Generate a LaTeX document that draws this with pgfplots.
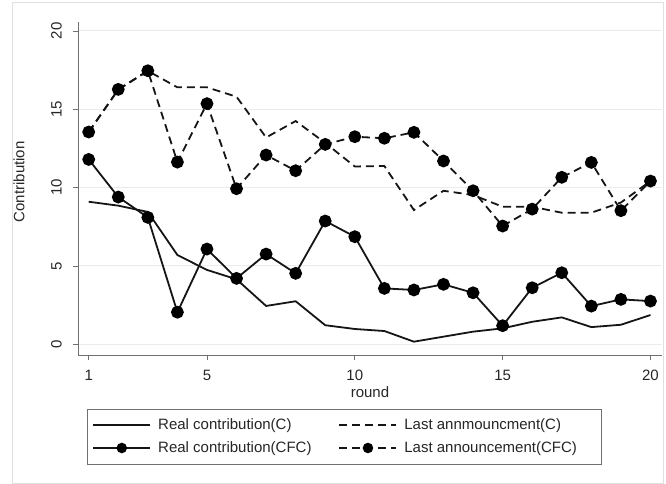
\documentclass[border=0pt]{standalone}
\usepackage{fontspec}
\setmainfont{Liberation Sans}
\usepackage{pgfplots}
\usepackage{pgfplotstable}
\pgfplotsset{compat=1.18}
\definecolor{axgray}{HTML}{707070}
\definecolor{gridgray}{HTML}{EBEBEB}
\definecolor{lineblk}{HTML}{151515}

\pgfplotstableread{
r realC lastC realCFC lastCFC
1  9.10 13.55 11.8 13.55
2  8.85 16.25  9.4 16.27
3  8.45 17.45  8.1 17.46
4  5.70 16.40  2.05 11.63
5  4.75 16.40  6.08 15.36
6  4.15 15.80  4.21 9.93
7  2.45 13.20  5.76 12.08
8  2.75 14.25  4.53 11.08
9  1.22 12.85  7.87 12.76
10 0.98 11.35  6.87 13.25
11 0.85 11.38  3.57 13.15
12 0.17  8.57  3.47 13.53
13 0.49  9.80  3.83 11.70
14 0.81  9.53  3.29  9.80
15 1.02  8.78  1.19  7.55
16 1.44  8.78  3.61  8.63
17 1.72  8.40  4.57 10.66
18 1.10  8.40  2.44 11.61
19 1.25  9.05  2.87  8.53
20 1.87 10.42  2.76 10.42
}\datatable

\begin{document}
\fontsize{15bp}{18bp}\selectfont
\begin{tikzpicture}
\path[use as bounding box] (0,0) rectangle (666bp,484bp);
\draw[black!12, line width=0.8bp] (12bp,0.5bp) rectangle (663bp,481.5bp);
\begin{axis}[
  at={(78bp,129bp)}, anchor=south west,
  scale only axis, width=584bp, height=333bp,
  xmin=0.638, xmax=20.39, ymin=-0.68, ymax=20.57,
  axis x line=bottom, axis y line=left,
  axis line style={-, axgray, line width=1bp},
  xtick={1,5,10,15,20}, ytick={0,5,10,15,20},
  tick align=outside, major tick length=5bp,
  tick style={axgray, line width=0.8bp},
  ymajorgrids, grid style={gridgray, line width=1bp},
  yticklabel style={rotate=90, anchor=south},
  xticklabel shift=5bp, yticklabel shift=6bp,
  ticklabel style={font=\fontsize{15bp}{18bp}\selectfont, text=black!85},
  label style={font=\fontsize{15bp}{18bp}\selectfont, text=black!85},
  xlabel={round}, ylabel={Contribution},
  xlabel style={at={(axis description cs:0.5,-0.094)}, anchor=north, inner sep=0pt},
  ylabel style={at={(axis description cs:-0.101,0.52)}, anchor=center, inner sep=0pt},
  /pgf/number format/assume math mode=true,
  legend columns=2,
  legend cell align=left,
  legend style={at={(0.0154,-0.162)}, anchor=north west,
    draw=axgray, line width=0.8bp, inner xsep=5bp, inner ysep=7.5bp,
    row sep=5.5bp,
    font=\fontsize{15bp}{18bp}\selectfont, text=black!85,
    /tikz/every odd column/.append style={column sep=5bp},
    /tikz/every even column/.append style={column sep=25bp}},
  legend image code/.code={\draw[#1, mark size=4.3bp, mark repeat=2, mark phase=2] plot coordinates {(0bp,0bp) (28.5bp,0bp) (57bp,0bp)};},
]
\addplot[lineblk, line width=1.8bp, no markers] table[x=r, y=realC] {\datatable};
\addlegendentry{Real contribution(C)}
\addplot[lineblk, line width=1.8bp, no markers, dash pattern=on 8bp off 5bp] table[x=r, y=lastC] {\datatable};
\addlegendentry{Last annmouncment(C)}
\addplot[lineblk, line width=1.8bp, mark=*, mark size=5.5bp, mark options={solid, fill=black, draw=black}] table[x=r, y=realCFC] {\datatable};
\addlegendentry{Real contribution(CFC)}
\addplot[lineblk, line width=1.8bp, mark=*, mark size=5.5bp, mark options={solid, fill=black, draw=black}, dash pattern=on 8bp off 5bp] table[x=r, y=lastCFC] {\datatable};
\addlegendentry{Last announcement(CFC)\hspace*{17bp}}
\end{axis}
\end{tikzpicture}
\end{document}
